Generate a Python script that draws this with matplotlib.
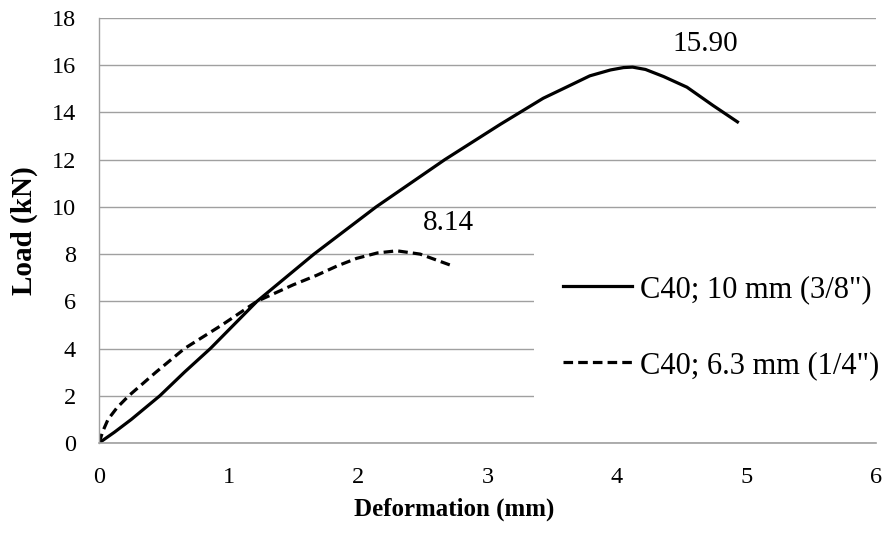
import matplotlib
matplotlib.use("Agg")
from matplotlib import pyplot as plt

plt.rcParams['font.family'] = ['Liberation Serif', 'DejaVu Serif']

# C40; 10 mm (3/8")
def_10 = [0, 0.12, 0.25, 0.47, 0.66, 0.86, 1.04, 1.22, 1.44, 1.66, 2.14, 2.67, 3.10, 3.43, 3.62, 3.79, 3.95,
          4.05, 4.12, 4.22, 4.36, 4.54, 4.74, 4.93]
load_10 = [0, 0.46, 1.0, 2.0, 3.0, 4.0, 5.0, 6.0, 7.0, 8.0, 10.0, 12.0, 13.5, 14.6, 15.1, 15.55, 15.8,
           15.9, 15.92, 15.82, 15.52, 15.07, 14.3, 13.6]

# C40; 6.3 mm (1/4")
def_63 = [0, 0.03, 0.07, 0.14, 0.23, 0.44, 0.66, 0.95, 1.22, 1.5, 1.68, 1.84, 1.99, 2.15, 2.30, 2.48, 2.71]
load_63 = [0, 0.5, 1.0, 1.5, 2.0, 3.0, 4.0, 5.0, 6.0, 6.7, 7.1, 7.5, 7.82, 8.05, 8.14, 8.0, 7.54]

labels = ['C40; 10 mm (3/8")', 'C40; 6.3 mm (1/4")']
peak_text = ['15.90', '8.14']
peak_pos = [(4.68, 16.9), (2.70, 9.3)]

fig = plt.figure(figsize=(8.94, 5.34), dpi=100)
ax = fig.add_axes([0.1107, 0.1704, 0.8692, 0.7959])

grid_c = '#a0a0a0'
ax.set_xlim(0, 6)
ax.set_ylim(0, 18)
ax.set_xticks(range(0, 7))
ax.set_yticks(range(0, 19, 2))
ax.yaxis.grid(True, color=grid_c, lw=1.0)
ax.set_axisbelow(True)
for s in ['top', 'right']:
    ax.spines[s].set_visible(False)
ax.spines['left'].set_color(grid_c)
ax.spines['bottom'].set_color(grid_c)
ax.spines['left'].set_linewidth(1.0)
ax.spines['bottom'].set_linewidth(1.2)
ax.tick_params(axis='both', length=0, labelsize=17.5)
ax.tick_params(axis='y', pad=16.5)
ax.tick_params(axis='x', pad=17)

ax.plot(def_10, load_10, color='black', lw=2.3, label=labels[0])
ax.plot(def_63, load_63, color='black', lw=2.3, linestyle=(0, (3, 1.6)), label=labels[1])

for t, (px, py) in zip(peak_text, peak_pos):
    ax.text(px, py, t, fontsize=21, ha='center', va='center')

ax.set_xlabel('Deformation (mm)', fontsize=18, fontweight='bold', va='center')
ax.xaxis.set_label_coords(0.457, -0.155)
ax.set_ylabel('Load (kN)', fontsize=21, fontweight='bold', va='center')
ax.yaxis.set_label_coords(-0.0965, 0.5)

leg = ax.legend(loc='center left', bbox_to_anchor=(0.56, 0.272), fontsize=22,
                frameon=True, fancybox=False, framealpha=1, edgecolor='none',
                handlelength=2.26, handletextpad=0.26, labelspacing=1.55,
                borderpad=0.95, borderaxespad=0)
leg.set_zorder(5)

fig.savefig('out.png', dpi=100)
